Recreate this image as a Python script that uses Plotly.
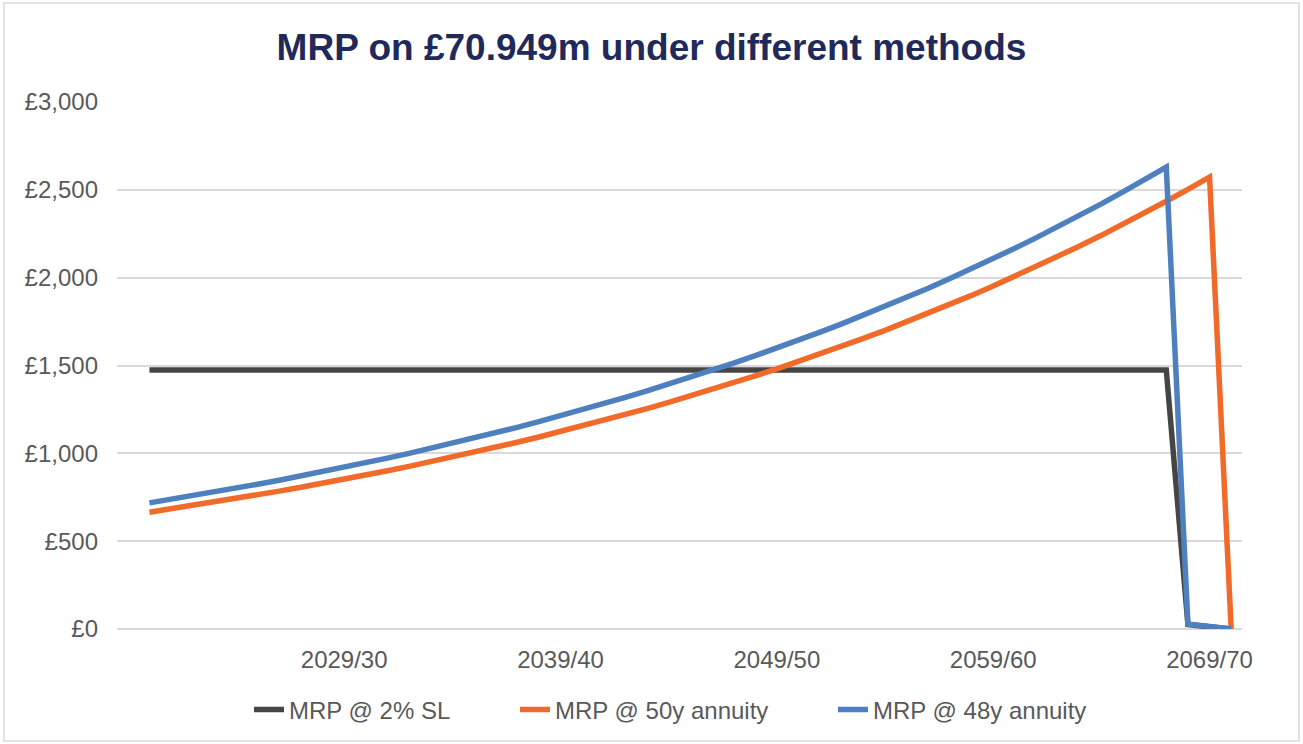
import plotly.graph_objects as go

years = [f"{y}/{str(y + 1)[-2:]}" for y in range(2019, 2071)]

mrp_sl = [None] + [1475] * 48 + [25, 10, 0]

mrp_50y = [None,
    665, 684, 703, 722, 743, 763, 785, 807, 829, 853,
    876, 901, 926, 952, 979, 1006, 1034, 1063, 1093, 1124,
    1155, 1188, 1221, 1255, 1290, 1326, 1363, 1402, 1441, 1481,
    1523, 1565, 1609, 1654, 1700, 1748, 1797, 1847, 1899, 1952,
    2007, 2063, 2121, 2180, 2241, 2304, 2369, 2435, 2503, 2573,
    0]

mrp_48y = [None,
    718, 738, 759, 780, 802, 824, 847, 871, 895, 921,
    946, 973, 1000, 1028, 1057, 1086, 1117, 1148, 1180, 1213,
    1247, 1282, 1318, 1355, 1393, 1432, 1472, 1513, 1556, 1599,
    1644, 1690, 1737, 1786, 1836, 1887, 1940, 1995, 2050, 2108,
    2167, 2228, 2290, 2354, 2420, 2488, 2557, 2629,
    28, 14, 0]

tick_years = ["2029/30", "2039/40", "2049/50", "2059/60", "2069/70"]
y_ticks = [0, 500, 1000, 1500, 2000, 2500, 3000]
y_tick_text = ["£0", "£500", "£1,000", "£1,500", "£2,000", "£2,500", "£3,000"]

series = [
    ("MRP @ 2% SL", mrp_sl, "#454545", "legend"),
    ("MRP @ 50y annuity", mrp_50y, "#F26A2A", "legend2"),
    ("MRP @ 48y annuity", mrp_48y, "#4E80BF", "legend3"),
]

fig = go.Figure()
for name, vals, col, lg in series:
    fig.add_trace(go.Scatter(
        x=years, y=vals, name=name, mode="lines",
        line=dict(color=col, width=5.5), connectgaps=False,
        legend=lg,
    ))

FONT = "Liberation Sans, Arial, sans-serif"
L, R, T, B = 117, 61, 102, 115
W, H = 1303, 744
pw, ph = W - L - R, H - T - B


def px_x(p):
    return (p - L) / pw


def px_y(p):
    return (T + ph - p) / ph


def legend_at(text_start):
    return dict(
        orientation="h", x=px_x(text_start - 40), xanchor="left",
        y=px_y(710), yanchor="middle",
        font=dict(family=FONT, size=24, color="#595959"),
        bgcolor="rgba(0,0,0,0)", borderwidth=0,
    )


fig.update_layout(
    width=W, height=H,
    margin=dict(l=L, r=R, t=T, b=B),
    paper_bgcolor="white", plot_bgcolor="white",
    font=dict(family=FONT, color="#595959", size=24),
    title=dict(
        text="<b>MRP on £70.949m under different methods</b>",
        x=0.5, xanchor="center", y=1 - 47 / H, yanchor="middle",
        font=dict(family=FONT, size=37, color="#1F2A5B"),
    ),
    xaxis=dict(
        type="category", categoryorder="array", categoryarray=years,
        range=[-0.5, len(years) - 0.5],
        tickmode="array", tickvals=tick_years, ticktext=tick_years,
        showgrid=False, zeroline=False,
        showline=False, ticks="",
        tickfont=dict(size=24, color="#595959"),
        ticklabelstandoff=14,
    ),
    yaxis=dict(
        range=[0, 3000], tickmode="array", tickvals=y_ticks,
        ticktext=y_tick_text,
        showgrid=True, gridcolor="#D9D9D9", gridwidth=1.5,
        zeroline=True, zerolinecolor="#D9D9D9", zerolinewidth=1.5,
        showline=False, ticks="",
        tickfont=dict(size=24, color="#595959"),
        ticklabelstandoff=18,
    ),
    legend=legend_at(289),
    legend2=legend_at(555),
    legend3=legend_at(873),
    showlegend=True,
)

# chart frame
fig.add_shape(
    type="rect", xref="paper", yref="paper",
    x0=px_x(4), x1=px_x(1299),
    y0=px_y(741), y1=px_y(3),
    line=dict(color="#D9D9D9", width=1.5), fillcolor="rgba(0,0,0,0)",
    layer="below",
)

fig.write_html(
    "out.html",
    config={"displayModeBar": False},
    post_script="document.body.style.margin='0';document.body.style.overflow='hidden';",
)
